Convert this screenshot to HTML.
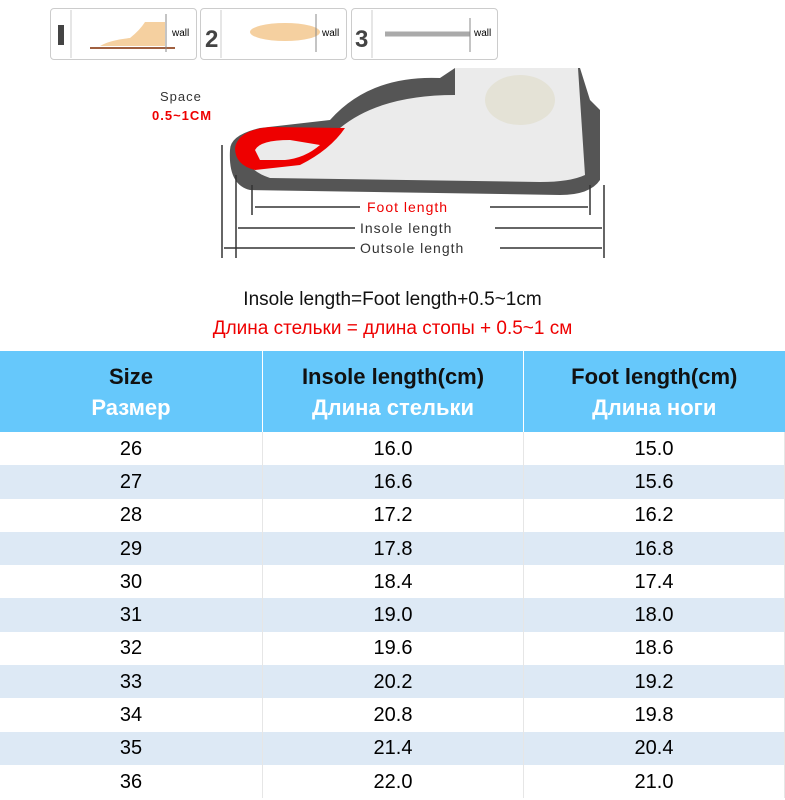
<!DOCTYPE html>
<html><head><meta charset="utf-8"><style>
body{margin:0;width:785px;height:800px;background:#fff;overflow:hidden;font-family:"Liberation Sans",sans-serif;position:relative}
.box{position:absolute;top:8px;height:50px;border:1px solid #ccc;border-radius:4px;background:#fff}
.t1{position:absolute;left:0;width:785px;text-align:center;font-size:19px}
table{position:absolute;left:0;top:351px;width:785px;border-collapse:collapse}
td{text-align:center;font-size:20px;height:33.3px;padding:0;border-right:1px solid #e6e6e6;line-height:20px}
th{background:#66c8fb;height:81px;font-weight:bold;font-size:22px;line-height:31px;border-right:1px solid #fff;padding:0;color:#111}
th span{color:#fff}
tr:nth-child(odd) td{background:#dde9f5}
</style></head><body>
<div class="box" style="left:50px;width:145px"></div>
<div class="box" style="left:200px;width:145px"></div>
<div class="box" style="left:351px;width:145px"></div>
<svg width="785" height="350" style="position:absolute;left:0;top:0">
<g font-family="Liberation Sans" font-size="10">
<line x1="71" y1="10" x2="71" y2="58" stroke="#ccc"/><line x1="221" y1="10" x2="221" y2="58" stroke="#ccc"/><line x1="372" y1="10" x2="372" y2="58" stroke="#ccc"/>
<rect x="58" y="25" width="6" height="20" fill="#444"/>
<text x="205" y="47" font-size="24" font-weight="bold" fill="#444">2</text>
<text x="355" y="47" font-size="24" font-weight="bold" fill="#444">3</text>
<path d="M100 46 Q110 40 130 38 Q140 30 145 22 L165 22 L165 46 Z" fill="#f5d0a0"/>
<line x1="90" y1="48" x2="175" y2="48" stroke="#a06040" stroke-width="2"/>
<ellipse cx="285" cy="32" rx="35" ry="9" fill="#f5d0a0"/>
<line x1="385" y1="34" x2="470" y2="34" stroke="#aaa" stroke-width="5"/>
<text x="172" y="36">wall</text><text x="322" y="36">wall</text><text x="474" y="36">wall</text>
<line x1="166" y1="14" x2="166" y2="52" stroke="#888"/><line x1="316" y1="14" x2="316" y2="52" stroke="#888"/><line x1="470" y1="18" x2="470" y2="52" stroke="#888"/>
</g>
<path d="M230 150 Q230 135 260 128 L330 120 Q370 75 440 78 L455 68 L580 68 L590 100 L600 110 L600 180 Q590 195 560 195 L250 190 Q228 185 230 150 Z" fill="#555"/>
<path d="M245 150 Q250 140 270 135 L340 128 Q380 95 455 95 L455 68 L578 68 L585 175 Q570 182 540 182 L270 178 Q245 170 245 150 Z" fill="#ebebeb"/>
<path d="M235 148 Q238 130 270 127 L345 128 Q330 150 300 165 L255 170 Q235 165 235 148 Z" fill="#e00"/>
<path d="M255 150 Q260 140 290 140 L320 145 Q305 158 285 160 L260 160 Z" fill="#ebebeb"/>
<ellipse cx="520" cy="100" rx="35" ry="25" fill="#e4e2d6"/>
<g stroke="#333" stroke-width="1.5"><line x1="222" y1="145" x2="222" y2="258"/><line x1="236" y1="175" x2="236" y2="258"/><line x1="252" y1="185" x2="252" y2="215"/><line x1="590" y1="185" x2="590" y2="215"/><line x1="604" y1="185" x2="604" y2="258"/>
<line x1="255" y1="207" x2="360" y2="207"/><line x1="490" y1="207" x2="588" y2="207"/>
<line x1="238" y1="228" x2="355" y2="228"/><line x1="495" y1="228" x2="602" y2="228"/>
<line x1="224" y1="248" x2="355" y2="248"/><line x1="500" y1="248" x2="602" y2="248"/></g>
<g font-family="Liberation Sans" font-size="14" letter-spacing="1">
<text x="367" y="212" fill="#e00">Foot length</text>
<text x="360" y="233" fill="#333">Insole length</text>
<text x="360" y="253" fill="#333">Outsole length</text>
<text x="160" y="101" fill="#333" font-size="13">Space</text>
<text x="152" y="120" fill="#e00" font-size="13" font-weight="bold">0.5~1CM</text>
</g>
</svg>
<div class="t1" style="top:289px;color:#111">Insole length=Foot length+0.5~1cm</div>
<div class="t1" style="top:318px;color:#e00">Длина стельки = длина стопы + 0.5~1 см</div>
<table>
<tr><th style="width:262px">Size<br><span>Размер</span></th><th style="width:260px">Insole length(cm)<br><span>Длина стельки</span></th><th style="border-right:0">Foot length(cm)<br><span>Длина ноги</span></th></tr>
<tr><td>26</td><td>16.0</td><td>15.0</td></tr>
<tr><td>27</td><td>16.6</td><td>15.6</td></tr>
<tr><td>28</td><td>17.2</td><td>16.2</td></tr>
<tr><td>29</td><td>17.8</td><td>16.8</td></tr>
<tr><td>30</td><td>18.4</td><td>17.4</td></tr>
<tr><td>31</td><td>19.0</td><td>18.0</td></tr>
<tr><td>32</td><td>19.6</td><td>18.6</td></tr>
<tr><td>33</td><td>20.2</td><td>19.2</td></tr>
<tr><td>34</td><td>20.8</td><td>19.8</td></tr>
<tr><td>35</td><td>21.4</td><td>20.4</td></tr>
<tr><td>36</td><td>22.0</td><td>21.0</td></tr>
</table>
</body></html>
